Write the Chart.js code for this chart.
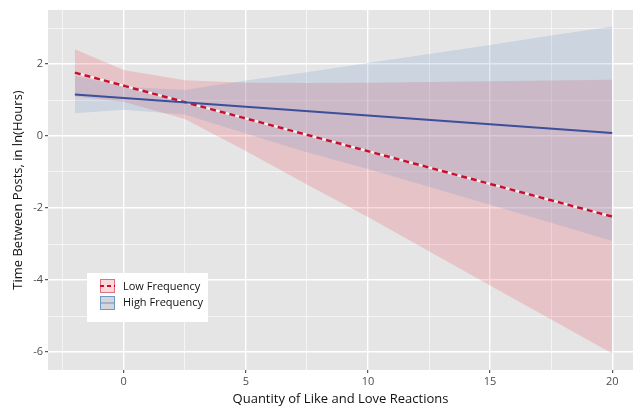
<!DOCTYPE html>
<html>
<head>
<meta charset="utf-8">
<script src="https://cdn.jsdelivr.net/npm/chart.js@4.4.1/dist/chart.umd.min.js"></script>
<style>
    html, body { margin: 0; padding: 0; background: #fff; }
    #wrap { width: 641px; height: 408px; }
</style>
</head>
<body>
<div id="wrap"><canvas id="myChart" width="641" height="408"></canvas></div>
<script>
    'use strict';

    // values
    var lineX = [-2, 20];
    var lowFreqLine = [1.76, -2.24];
    var highFreqLine = [1.15, 0.08];

    var bandX = [-2, 0, 2.5, 5, 7.5, 10, 12.5, 15, 17.5, 20];
    var lowFreqUpper = [2.41, 1.83, 1.55, 1.48, 1.47, 1.48, 1.50, 1.52, 1.54, 1.56];
    var lowFreqLower = [1.10, 0.95, 0.47, -0.42, -1.35, -2.25, -3.20, -4.15, -5.10, -6.04];
    var highFreqUpper = [1.67, 1.37, 1.28, 1.54, 1.77, 2.03, 2.28, 2.53, 2.79, 3.04];
    var highFreqLower = [0.63, 0.73, 0.60, 0.07, -0.45, -0.92, -1.41, -1.91, -2.41, -2.92];

    var xTicks = [-2.5, 0, 2.5, 5, 7.5, 10, 12.5, 15, 17.5, 20];
    var xLabels = [0, 5, 10, 15, 20];
    var yTicks = [-6, -5, -4, -3, -2, -1, 0, 1, 2, 3];
    var yLabels = [-6, -4, -2, 0, 2];

    var legendLabels = ['Low Frequency', 'High Frequency'];

    function pts(xs, ys) {
        return xs.map(function (x, i) {
            return { x: x, y: ys[i] };
        });
    }

    var pinkFill = 'rgba(231,76,94,0.22)';
    var blueFill = 'rgba(100,145,200,0.2)';
    var redLine = '#c8102e';
    var blueLine = '#3b4f9b';

    var panelBg = {
        id: 'panelBg',
        beforeDraw: function (chart) {
            var a = chart.chartArea;
            var ctx = chart.ctx;
            ctx.save();
            ctx.fillStyle = '#e5e5e5';
            ctx.fillRect(a.left, a.top, a.right - a.left, a.bottom - a.top);
            ctx.restore();
        }
    };

    var boxLegend = {
        id: 'boxLegend',
        afterDraw: function (chart) {
            var ctx = chart.ctx;
            ctx.save();
            ctx.fillStyle = '#ffffff';
            ctx.fillRect(87, 273, 121, 49);

            // low frequency key
            ctx.fillStyle = 'rgba(231,76,94,0.22)';
            ctx.fillRect(100, 279, 15, 14);
            ctx.strokeStyle = '#e0707e';
            ctx.lineWidth = 1;
            ctx.strokeRect(100.5, 279.5, 14, 13);
            ctx.strokeStyle = redLine;
            ctx.lineWidth = 2;
            ctx.setLineDash([4, 3]);
            ctx.beginPath();
            ctx.moveTo(100, 286);
            ctx.lineTo(115, 286);
            ctx.stroke();
            ctx.setLineDash([]);

            // high frequency key
            ctx.fillStyle = '#d2d6dc';
            ctx.fillRect(100, 296, 15, 14);
            ctx.strokeStyle = '#6f98c8';
            ctx.lineWidth = 1;
            ctx.strokeRect(100.5, 296.5, 14, 13);
            ctx.strokeStyle = '#7f8fa8';
            ctx.beginPath();
            ctx.moveTo(100, 303);
            ctx.lineTo(115, 303);
            ctx.stroke();

            ctx.fillStyle = '#111';
            ctx.font = '11px "Open Sans"';
            ctx.textBaseline = 'middle';
            ctx.fillText(legendLabels[0], 123, 286.5);
            ctx.fillText(legendLabels[1], 123, 302.5);
            ctx.restore();
        }
    };

    function isMajor(list, v) {
        return list.indexOf(v) !== -1;
    }

    var chart = new Chart(document.getElementById('myChart'), {
        type: 'line',
        data: {
            datasets: [
                {
                    data: pts(bandX, lowFreqLower),
                    borderWidth: 0, pointRadius: 0, fill: false, order: 10
                },
                {
                    data: pts(bandX, lowFreqUpper),
                    borderWidth: 0, pointRadius: 0, fill: '-1', backgroundColor: pinkFill, order: 9
                },
                {
                    data: pts(bandX, highFreqLower),
                    borderWidth: 0, pointRadius: 0, fill: false, order: 8
                },
                {
                    data: pts(bandX, highFreqUpper),
                    borderWidth: 0, pointRadius: 0, fill: '-1', backgroundColor: blueFill, order: 7
                },
                {
                    data: pts(lineX, lowFreqLine),
                    borderColor: '#f4f0f0', borderWidth: 2.5, pointRadius: 0, fill: false, order: 3
                },
                {
                    data: pts(lineX, lowFreqLine),
                    borderColor: redLine, borderWidth: 2.5, borderDash: [6, 4],
                    pointRadius: 0, fill: false, order: 2
                },
                {
                    data: pts(lineX, highFreqLine),
                    borderColor: blueLine, borderWidth: 2, pointRadius: 0, fill: false, order: 1
                }
            ]
        },
        options: {
            responsive: false,
            animation: false,
            layout: { padding: { top: 10, right: 8, left: 0, bottom: 0 } },
            plugins: {
                legend: { display: false },
                tooltip: { enabled: false }
            },
            scales: {
                x: {
                    type: 'linear',
                    min: -3.1,
                    max: 20.85,
                    afterBuildTicks: function (axis) {
                        axis.ticks = xTicks.map(function (v) { return { value: v }; });
                    },
                    afterFit: function (axis) { axis.height = 38; },
                    border: { display: false },
                    grid: {
                        color: '#ffffff',
                        lineWidth: function (c) { return isMajor(xLabels, c.tick.value) ? 1.4 : 0.6; },
                        tickColor: function (c) { return isMajor(xLabels, c.tick.value) ? '#333333' : 'rgba(0,0,0,0)'; },
                        tickLength: 3,
                        tickWidth: 1
                    },
                    ticks: {
                        autoSkip: false,
                        maxRotation: 0,
                        padding: 2,
                        color: '#4d4d4d',
                        font: { family: 'Open Sans', size: 11 },
                        callback: function (v) { return isMajor(xLabels, v) ? String(v) : ''; }
                    },
                    title: {
                        display: true,
                        text: 'Quantity of Like and Love Reactions',
                        color: '#111',
                        font: { family: 'Open Sans', size: 13 },
                        padding: { top: 0, bottom: 1 }
                    }
                },
                y: {
                    type: 'linear',
                    min: -6.5,
                    max: 3.5,
                    afterBuildTicks: function (axis) {
                        axis.ticks = yTicks.map(function (v) { return { value: v }; });
                    },
                    afterFit: function (axis) { axis.width = 48; },
                    border: { display: false },
                    grid: {
                        color: '#ffffff',
                        lineWidth: function (c) { return isMajor(yLabels, c.tick.value) ? 1.4 : 0.6; },
                        tickColor: function (c) { return isMajor(yLabels, c.tick.value) ? '#333333' : 'rgba(0,0,0,0)'; },
                        tickLength: 3,
                        tickWidth: 1
                    },
                    ticks: {
                        autoSkip: false,
                        padding: 2,
                        color: '#4d4d4d',
                        font: { family: 'Open Sans', size: 11 },
                        callback: function (v) { return isMajor(yLabels, v) ? String(v) : ''; }
                    },
                    title: {
                        display: true,
                        text: 'Time Between Posts, in ln(Hours)',
                        color: '#111',
                        font: { family: 'Open Sans', size: 13 },
                        padding: { top: 10, bottom: 0 }
                    }
                }
            }
        },
        plugins: [panelBg, boxLegend]
    });
</script>
</body>
</html>
